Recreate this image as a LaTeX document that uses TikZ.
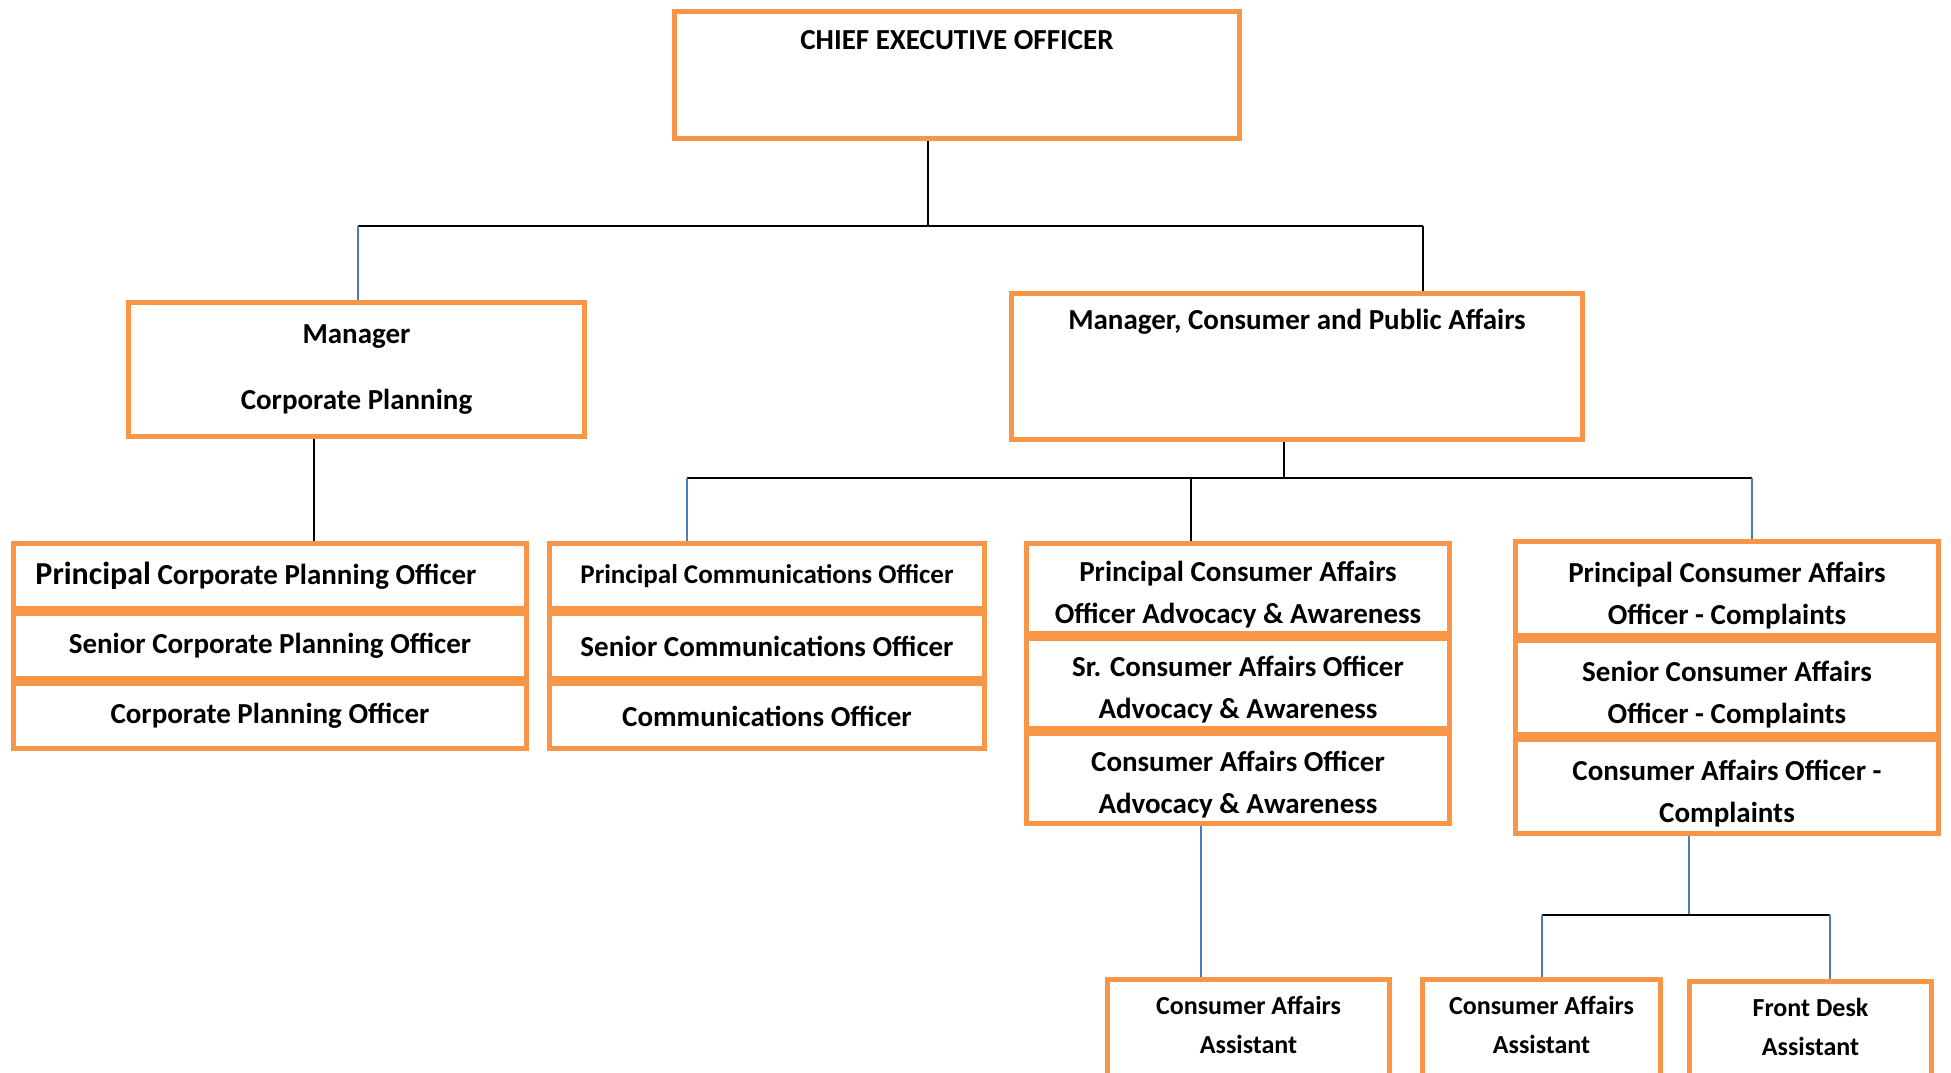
\documentclass[tikz,border=0pt]{standalone}
\usepackage{fontspec}
\setmainfont{Carlito}
\usetikzlibrary{positioning}
\definecolor{postorange}{HTML}{F79646}
\definecolor{tieblue}{HTML}{4A7EBB}
\newcommand{\postsize}{\fontsize{29}{42}\selectfont}
\newcommand{\smallpost}{\fontsize{26}{39}\selectfont}
\newcommand{\dropline}{\rule{0pt}{34pt}}
\tikzset{
	post/.style={draw=postorange, line width=5pt, fill=white, inner sep=0pt, align=center, font=\bfseries\postsize},
	posttext/.style={inner sep=0pt, align=center, font=\bfseries\postsize},
	tieblack/.style={draw=black, line width=2pt},
	tieblue/.style={draw=tieblue, line width=1.6pt},
}

\begin{document}
\begin{tikzpicture}[x=1pt, y=-1pt, line cap=butt, line join=miter]
	\useasboundingbox (0,0) rectangle (1951,1073);
	\clip (0,0) rectangle (1951,1073);

	% top level
	\node[post, minimum width=565pt, minimum height=127pt] (ceo) at (957,75) {};
	\node[posttext] (ceotext) at (957,40) {CHIEF EXECUTIVE OFFICER};

	% managers
	\node[post, minimum width=456pt, minimum height=134pt, font=\bfseries\fontsize{29}{36}\selectfont] (mcp) at (356.5,369.5) {Manager\\[30pt]Corporate Planning};
	\node[post, minimum width=571pt, minimum height=146pt] (mcpa) at (1297,366.5) {};
	\node[posttext] (mcpatext) at (1297,322) {Manager, Consumer and Public Affairs};

	% corporate planning
	\node[post, minimum width=513pt, minimum height=65pt] (cp1) at (270,576) {{\fontsize{32}{38}\selectfont Principal} Corporate Planning Officer\hspace*{28pt}};
	\node[post, minimum width=513pt, minimum height=65pt, below=0pt of cp1] (cp2) {Senior Corporate Planning Officer};
	\node[post, minimum width=513pt, minimum height=65pt, below=0pt of cp2] (cp3) {Corporate Planning Officer};

	% communications
	\node[post, minimum width=435pt, minimum height=65pt, font=\bfseries\fontsize{27}{38}\selectfont] (co1) at (767,576) {Principal Communications Officer};
	\node[post, minimum width=435pt, minimum height=65pt, below=0pt of co1] (co2) {Senior Communications Officer};
	\node[post, minimum width=435pt, minimum height=65pt, below=0pt of co2] (co3) {Communications Officer};

	% advocacy and awareness
	\node[post, minimum width=423pt, minimum height=90pt] (aa1) at (1238,588) {\dropline Principal Consumer Affairs\\Officer Advocacy \& Awareness};
	\node[post, minimum width=423pt, minimum height=90pt, below=0pt of aa1] (aa2) {\dropline Sr. Consumer Affairs Officer\\Advocacy \& Awareness};
	\node[post, minimum width=423pt, minimum height=90pt, below=0pt of aa2] (aa3) {\dropline Consumer Affairs Officer\\Advocacy \& Awareness};

	% complaints
	\node[post, minimum width=423pt, minimum height=94pt] (cc1) at (1727,588.5) {\dropline Principal Consumer Affairs\\Officer - Complaints};
	\node[post, minimum width=423pt, minimum height=94pt, below=0pt of cc1] (cc2) {\dropline Senior Consumer Affairs\\Officer - Complaints};
	\node[post, minimum width=423pt, minimum height=94pt, below=0pt of cc2] (cc3) {\dropline Consumer Affairs Officer -\\Complaints};

	% assistants
	\node[post, minimum width=282pt, minimum height=140pt, anchor=north] (asst1) at (1248.5,977) {};
	\node[posttext, font=\bfseries\smallpost] (asst1text) at (1248.5,1025) {Consumer Affairs\\Assistant};
	\node[post, minimum width=238pt, minimum height=140pt, anchor=north] (asst2) at (1541.5,977) {};
	\node[posttext, font=\bfseries\smallpost] (asst2text) at (1541.5,1025) {Consumer Affairs\\Assistant};
	\node[post, minimum width=242pt, minimum height=140pt, anchor=north] (desk) at (1810.5,979) {};
	\node[posttext, font=\bfseries\smallpost] (desktext) at (1810.5,1027) {Front Desk\\Assistant};

	% junctions
	\coordinate (j0) at (928,226);
	\coordinate (jl) at (358,226);
	\coordinate (jr) at (1423,226);
	\coordinate (cpdrop) at (314,490);
	\coordinate (h0) at (1284,478);
	\coordinate (hl) at (687,478);
	\coordinate (hm) at (1191,478);
	\coordinate (hr) at (1752,478);
	\coordinate (adrop) at (1201,900);
	\coordinate (g0) at (1689,915);
	\coordinate (gl) at (1542,915);
	\coordinate (gr) at (1830,915);

	% connectors
	\draw[tieblack] (ceo.south -| j0) -- (j0);
	\draw[tieblack] (jl) -- (jr);
	\draw[tieblue] (jl) -- (jl |- mcp.north);
	\draw[tieblack] (jr) -- (jr |- mcpa.north);
	\draw[tieblack] (mcp.south -| cpdrop) -- (cpdrop |- cp1.north);
	\draw[tieblack] (mcpa.south -| h0) -- (h0);
	\draw[tieblack] (hl) -- (hr);
	\draw[tieblue] (hl) -- (hl |- co1.north);
	\draw[tieblack] (hm) -- (hm |- aa1.north);
	\draw[tieblue] (hr) -- (hr |- cc1.north);
	\draw[tieblue] (aa3.south -| adrop) -- (adrop |- asst1.north);
	\draw[tieblue] (cc3.south -| g0) -- (g0);
	\draw[tieblack] (gl) -- (gr);
	\draw[tieblue] (gl) -- (gl |- asst2.north);
	\draw[tieblue] (gr) -- (gr |- desk.north);
\end{tikzpicture}
\end{document}
